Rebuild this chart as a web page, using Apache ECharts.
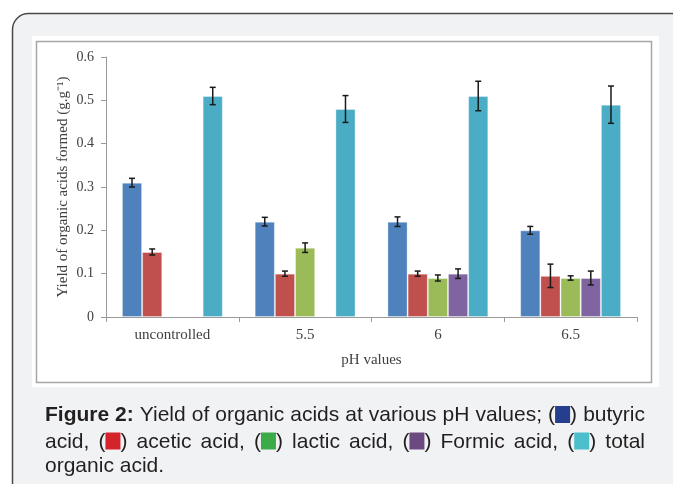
<!DOCTYPE html>
<html><head><meta charset="utf-8">
<script src="https://cdn.jsdelivr.net/npm/echarts@6/dist/echarts.min.js"></script>
<style>html,body{margin:0;padding:0;background:#fff;}#c{width:673px;height:484px;}</style>
</head><body><div id="c"></div>
<script>
const categories = ['uncontrolled', '5.5', '6', '6.5'];
const seriesNames = ['butyric acid', 'acetic acid', 'lactic acid', 'Formic acid', 'total organic acid'];
const butyric = [0.31, 0.22, 0.22, 0.20];
const acetic = [0.15, 0.10, 0.10, 0.095];
const lactic = [null, 0.16, 0.09, 0.09];
const formic = [null, null, 0.10, 0.09];
const total = [0.51, 0.48, 0.51, 0.49];
const butyricErr = [0.01, 0.01, 0.011, 0.009];
const aceticErr = [0.007, 0.006, 0.006, 0.027];
const lacticErr = [null, 0.011, 0.007, 0.005];
const formicErr = [null, null, 0.011, 0.016];
const totalErr = [0.02, 0.031, 0.034, 0.043];
const yTicks = [0, 0.1, 0.2, 0.3, 0.4, 0.5, 0.6];
const yAxisTitle = 'Yield of organic acids formed (g.g\u207B\u00B9)';
const xAxisTitle = 'pH values';
// caption lines: tokens; '(#n)' = colour square n in parentheses, '*' = bold
const captionLines = [
  ['*Figure 2:', 'Yield', 'of', 'organic', 'acids', 'at', 'various', 'pH', 'values;', '(#0)', 'butyric'],
  ['acid,', '(#1)', 'acetic', 'acid,', '(#2)', 'lactic', 'acid,', '(#3)', 'Formic', 'acid,', '(#4)', 'total'],
  ['organic', 'acid.']
];
const captionSquares = ['#253f8e', '#d4232a', '#3aab48', '#6a4a80', '#4bbfcb'];

const barColors = ['#4f81bd', '#c0504d', '#9bbb59', '#8064a2', '#4bacc6'];
const values = [butyric, acetic, lactic, formic, total];
const errs = [butyricErr, aceticErr, lacticErr, formicErr, totalErr];
const gapRatio = 0.24;

const chart = echarts.init(document.getElementById('c'));
const series = [];
values.forEach((v, i) => {
  series.push({
    name: seriesNames[i], type: 'bar', data: v, barGap: '0%', barCategoryGap: (gapRatio * 100) + '%',
    itemStyle: { color: barColors[i], borderColor: 'rgba(255,255,255,0.35)', borderWidth: 1 },
    silent: true, z: 2
  });
});
const errData = [];
values.forEach((v, i) => {
  v.forEach((val, c) => {
    if (val != null && errs[i][c] != null) errData.push([c, val, errs[i][c], i]);
  });
});
series.push({
  type: 'custom', z: 5, silent: true,
  data: errData,
  renderItem: function (params, api) {
    const c = api.value(0), val = api.value(1), e = api.value(2), si = api.value(3);
    const band = api.size([1, 0])[0];
    const totalW = band * (1 - gapRatio);
    const bw = totalW / 5;
    const center = api.coord([c, 0])[0];
    const x = center - totalW / 2 + (si + 0.5) * bw;
    const top = api.coord([c, val + e])[1];
    const bot = api.coord([c, val - e])[1];
    const cw = 3;
    const st = { stroke: '#1a1a1a', lineWidth: 1.5 };
    return { type: 'group', children: [
      { type: 'line', shape: { x1: x, y1: top, x2: x, y2: bot }, style: st },
      { type: 'line', shape: { x1: x - cw, y1: top, x2: x + cw, y2: top }, style: st },
      { type: 'line', shape: { x1: x - cw, y1: bot, x2: x + cw, y2: bot }, style: st }
    ]};
  }
});

// caption layout (justified lines like the reference)
const capFontFamily = '"Liberation Sans", Arial, sans-serif';
const capSize = 21;
const capLeft = 45, capRight = 645;
const capBaselines = [421, 447.5, 471.5];
const sqW = 15, sqH = 17;
const cv = document.createElement('canvas').getContext('2d');
function measure(txt, bold) {
  cv.font = (bold ? 'bold ' : '') + capSize + 'px ' + capFontFamily;
  return cv.measureText(txt).width;
}
function tokenParts(tok) {
  if (tok[0] === '*') return [{ text: tok.slice(1), bold: true }];
  const m = tok.match(/^\(#(\d)\)$/);
  if (m) return [{ text: '(' }, { sq: +m[1] }, { text: ')' }];
  return [{ text: tok }];
}
function partW(p) { return p.sq != null ? sqW : measure(p.text, p.bold); }
const capGraphics = [];
captionLines.forEach((line, li) => {
  const widths = line.map(t => tokenParts(t).reduce((s, p) => s + partW(p), 0));
  const sum = widths.reduce((a, b) => a + b, 0);
  const spaceW = measure(' ');
  const justify = li < captionLines.length - 1;
  const gap = justify ? (capRight - capLeft - sum) / (line.length - 1) : spaceW;
  let x = capLeft;
  const base = capBaselines[li];
  line.forEach((tok) => {
    tokenParts(tok).forEach(p => {
      if (p.sq != null) {
        capGraphics.push({ type: 'rect', silent: true, z: 10,
          shape: { x: x, y: base - 15, width: sqW, height: sqH },
          style: { fill: captionSquares[p.sq] } });
      } else {
        capGraphics.push({ type: 'text', silent: true, z: 10, x: x, y: base - 16,
          style: { text: p.text, font: (p.bold ? 'bold ' : '') + capSize + 'px ' + capFontFamily,
            fill: '#231f20', verticalAlign: 'top', align: 'left' } });
      }
      x += partW(p);
    });
    x += gap;
  });
});

chart.setOption({
  animation: false,
  grid: { left: 106, right: 36, top: 57, bottom: 167 },
  xAxis: {
    type: 'category', data: categories,
    name: xAxisTitle, nameLocation: 'middle', nameGap: 36, nameMoveOverlap: false,
    nameTextStyle: { fontFamily: 'Liberation Serif, serif', fontSize: 15, color: '#404040' },
    axisLine: { lineStyle: { color: '#9a9a9a', width: 1 } },
    axisTick: { show: true, length: 5, lineStyle: { color: '#9a9a9a' } },
    axisLabel: { fontFamily: 'Liberation Serif, serif', fontSize: 15, color: '#404040', margin: 11 }
  },
  yAxis: {
    type: 'value', min: yTicks[0], max: yTicks[yTicks.length - 1], interval: 0.1,
    name: yAxisTitle, nameLocation: 'middle', nameGap: 35, nameRotate: 90, nameMoveOverlap: false,
    nameTextStyle: { fontFamily: 'Liberation Serif, serif', fontSize: 15, color: '#404040' },
    axisLine: { show: true, lineStyle: { color: '#9a9a9a', width: 1 } },
    axisTick: { show: true, length: 5, lineStyle: { color: '#9a9a9a' } },
    splitLine: { show: false },
    axisLabel: { fontFamily: 'Liberation Serif, serif', fontSize: 14, color: '#404040', margin: 12,
      formatter: v => (Math.round(v * 10) / 10).toString() }
  },
  graphic: [
    { type: 'rect', z: -3, silent: true, shape: { x: 12.5, y: 13.5, width: 690, height: 500, r: 16 },
      style: { fill: '#f1f2f4', stroke: '#4a4a4a', lineWidth: 1.5 } },
    { type: 'rect', z: -2, silent: true, shape: { x: 32, y: 36, width: 627, height: 351 },
      style: { fill: '#ffffff' } },
    { type: 'rect', z: -1, silent: true, shape: { x: 36.5, y: 41.5, width: 615, height: 341 },
      style: { fill: '#ffffff', stroke: '#a6a6a6', lineWidth: 1.5 } }
  ].concat(capGraphics),
  series: series
});
</script></body></html>
